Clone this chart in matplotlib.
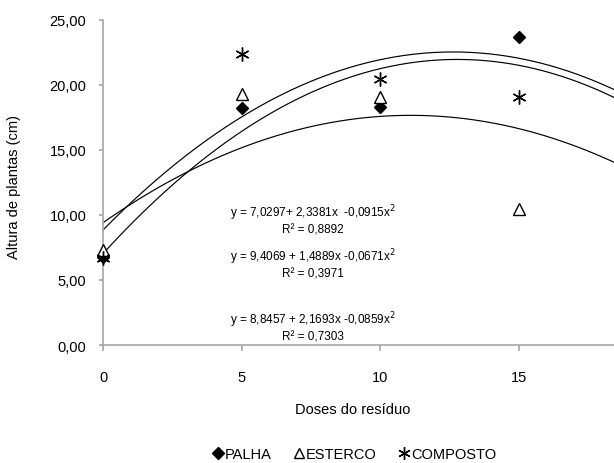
import numpy as np
import matplotlib
matplotlib.use("Agg")
import matplotlib.pyplot as plt
from matplotlib.lines import Line2D
from matplotlib.ticker import FuncFormatter

plt.rcParams['font.family'] = ['Liberation Sans', 'DejaVu Sans']

doses = [0, 5, 10, 15]
palha = [6.8, 18.2, 18.3, 23.7]
esterco = [7.3, 19.3, 19.1, 10.5]
composto = [6.7, 22.4, 20.5, 19.1]

# quadratic fit coefficients (a, b, c) for y = a + b x + c x^2
coef_palha = (7.0297, 2.3381, -0.0915)
coef_esterco = (9.4069, 1.4889, -0.0671)
coef_composto = (8.8457, 2.1693, -0.0859)

eq_texts = [
    ("y = 7,0297+ 2,3381x  -0,0915x$^2$", "R² = 0,8892"),
    ("y = 9,4069 + 1,4889x -0,0671x$^2$", "R² = 0,3971"),
    ("y = 8,8457 + 2,1693x -0,0859x$^2$", "R² = 0,7303"),
]

W, H = 614, 464
fig = plt.figure(figsize=(W / 100, H / 100), dpi=100)
x0, x1 = 103, 614
y0, y1 = 346, 21
ax = fig.add_axes([x0 / W, 1 - y0 / H, (x1 - x0) / W, (y0 - y1) / H])

xmax = (x1 - x0) / 27.73
ax.set_xlim(0, xmax)
ax.set_ylim(0, 25)

xx = np.linspace(0, xmax, 300)
for a, b, c in (coef_palha, coef_esterco, coef_composto):
    ax.plot(xx, a + b * xx + c * xx ** 2, color='black', lw=0.85, clip_on=True, zorder=2)

ax.plot(doses, palha, linestyle='none', marker='D', ms=6.5, mfc='black', mec='black', zorder=3, clip_on=False)
ax.plot(doses, esterco, linestyle='none', marker='^', ms=8, mfc='white', mec='black', mew=1.0, zorder=3, clip_on=False)
ax.plot(doses, composto, linestyle='none', marker=(6, 2, 0), ms=10, mec='black', mew=1.0, zorder=4, clip_on=False)

grey = '#a6a6a6'
for s in ('top', 'right'):
    ax.spines[s].set_visible(False)
for s in ('left', 'bottom'):
    ax.spines[s].set_color(grey)
    ax.spines[s].set_linewidth(1.2)

ax.set_xticks([0, 5, 10, 15])
ax.set_yticks(np.arange(0, 26, 5))
ax.yaxis.set_major_formatter(FuncFormatter(lambda v, p: f"{v:.2f}".replace('.', ',')))
ax.tick_params(axis='x', direction='out', length=4, width=1.2, color=grey, pad=14, labelsize=10.5)
ax.tick_params(axis='y', direction='out', length=3, width=1.2, color=grey, pad=9, labelsize=10.5)

ax.set_xlabel("Doses do resíduo", fontsize=10.5)
ax.xaxis.set_label_coords((353 - x0) / (x1 - x0), -(410 - y0) / (y0 - y1))
ax.xaxis.label.set_va('center')
fig.text(14 / W, 1 - 187 / H, "Altura de plantas (cm)", rotation=90, fontsize=10.5,
         ha='center', va='center')

eq_y = [(213, 231), (257, 275), (320, 337)]
for (l1, l2), (ya, yb) in zip(eq_texts, eq_y):
    fig.text(313 / W, 1 - ya / H, l1, fontsize=8.5, ha='center', va='center')
    fig.text(313 / W, 1 - yb / H, l2, fontsize=8.5, ha='center', va='center')

handles = [
    Line2D([], [], linestyle='none', marker='D', ms=6, mfc='black', mec='black'),
    Line2D([], [], linestyle='none', marker='^', ms=7, mfc='white', mec='black'),
    Line2D([], [], linestyle='none', marker=(6, 2, 0), ms=9, mec='black'),
]
fig.legend(handles, ["PALHA", "ESTERCO", "COMPOSTO"], loc='center',
           bbox_to_anchor=(355 / W, 1 - 455 / H), ncol=3, frameon=False,
           fontsize=10.5, handlelength=0.6, handletextpad=0.15, columnspacing=1.6)

fig.savefig("out.png", dpi=100)
